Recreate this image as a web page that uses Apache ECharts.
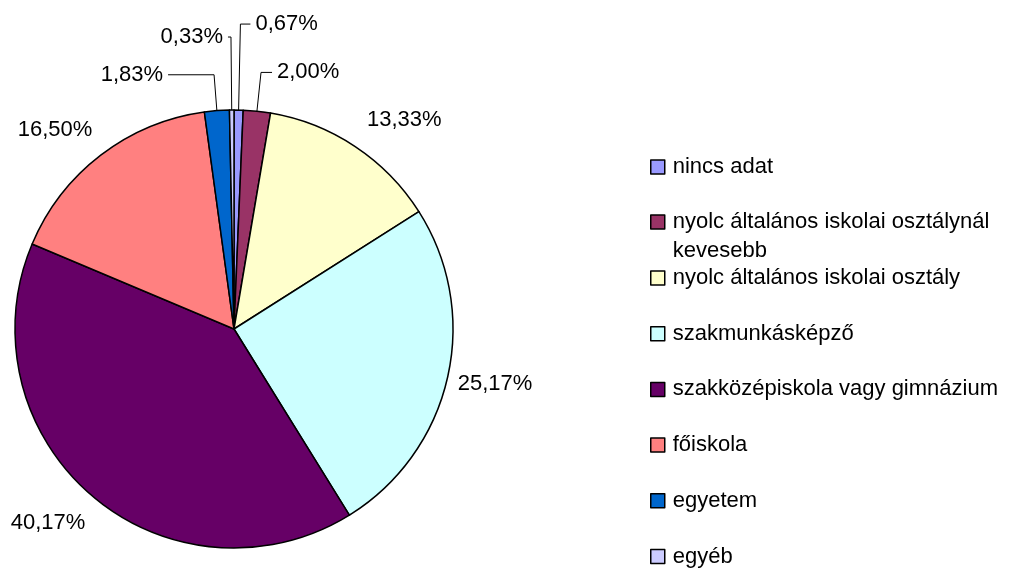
<!DOCTYPE html>
<html>
<head>
	<meta charset="utf-8" />
	<title>Iskolai végzettség</title>
	<style type="text/css">
		html, body {
			margin: 0;
			padding: 0;
			background: #fff;
		}

		#main {
			width: 1012px;
			height: 570px;
		}
	</style>
	<script src="https://cdn.jsdelivr.net/npm/echarts@6/dist/echarts.min.js"></script>
</head>
<body>
	<div id="main"></div>
	<script type="text/javascript">

		const categories = [
			'nincs adat',
			'nyolc általános iskolai osztálynál kevesebb',
			'nyolc általános iskolai osztály',
			'szakmunkásképző',
			'szakközépiskola vagy gimnázium',
			'főiskola',
			'egyetem',
			'egyéb'
		];
		const shares = [0.67, 2.00, 13.33, 25.17, 40.17, 16.50, 1.83, 0.33];
		const colors = ['#9999FF', '#993366', '#FFFFCC', '#CCFFFF', '#660066', '#FF8080', '#0066CC', '#CCCCFF'];

		// label placement per slice: [radial length, horizontal length, show leader line]
		const leaders = [
			[86, 10, true],
			[39, 11, true],
			[32, -11, false],
			[27, -21, false],
			[36, -22, false],
			[32, -16, false],
			[36, 46, true],
			[73, 3, true]
		];

		const font = '"Liberation Sans", Arial, sans-serif';

		const pieData = categories.map((name, i) => ({
			name: name,
			value: shares[i],
			itemStyle: { color: colors[i] },
			labelLine: {
				show: leaders[i][2],
				length: leaders[i][0],
				length2: leaders[i][1]
			}
		}));

		// the legend is split in three so the two-line entry keeps its box on the first line
		const legendBase = {
			orient: 'vertical',
			left: 650,
			padding: 0,
			itemWidth: 14,
			itemHeight: 14,
			icon: 'rect',
			itemStyle: {
				borderColor: '#000',
				borderWidth: 1.5
			},
			textStyle: {
				fontFamily: font,
				fontSize: 22,
				color: '#000',
				lineHeight: 29,
				padding: [0, 0, 0, 3]
			}
		};

		const options = {
			animation: false,
			backgroundColor: '#fff',
			legend: [
				Object.assign({}, legendBase, {
					top: 152.5,
					data: categories.slice(0, 1)
				}),
				Object.assign({}, legendBase, {
					top: 178.5,
					// empty first line puts the real first line level with the box
					formatter: (name) => '\n' + name.replace('osztálynál kevesebb', 'osztálynál\nkevesebb'),
					data: categories.slice(1, 2)
				}),
				Object.assign({}, legendBase, {
					top: 267,
					itemGap: 33.7,
					textStyle: Object.assign({}, legendBase.textStyle, { lineHeight: 22 }),
					data: categories.slice(2)
				})
			],
			series: [
				{
					type: 'pie',
					center: [234, 329],
					radius: 219,
					startAngle: 90,
					clockwise: true,
					avoidLabelOverlap: false,
					emphasis: { disabled: true },
					itemStyle: {
						borderColor: '#000',
						borderWidth: 1.5
					},
					label: {
						show: true,
						position: 'outside',
						fontFamily: font,
						fontSize: 22,
						color: '#000',
						distanceToLabelLine: 5,
						formatter: (p) => p.value.toFixed(2).replace('.', ',') + '%'
					},
					labelLine: {
						lineStyle: { color: '#000', width: 1 },
						minTurnAngle: 0,
						maxSurfaceAngle: 180
					},
					data: pieData
				}
			]
		};

		const myChart = echarts.init(document.getElementById('main'));
		myChart.setOption(options);

	</script>
</body>
</html>
